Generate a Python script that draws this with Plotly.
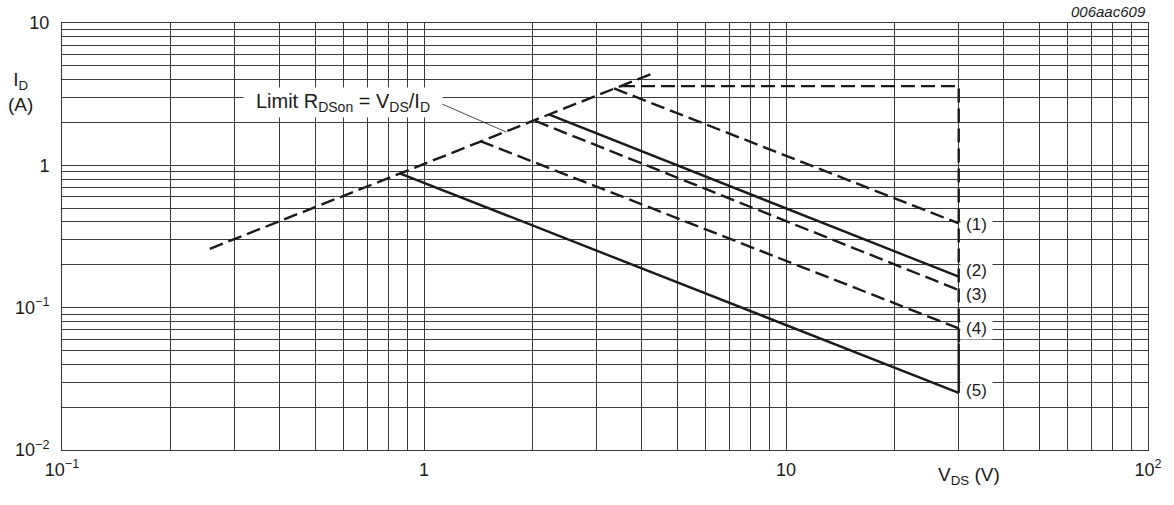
import numpy as np
import plotly.graph_objects as go

# ---- data -------------------------------------------------------------
# R_DSon limit line, V_DS (V) vs I_D (A)
rdson_v = [0.256, 4.22]
rdson_i = [0.259, 4.36]

# limit curves: start on the R_DSon line, end at V_DS = 30 V
curve_names = ["(1)", "(2)", "(3)", "(4)", "(5)"]
curve_v_start = [3.35, 2.21, 2.03, 1.43, 0.857]
curve_i_start = [3.47, 2.28, 2.05, 1.48, 0.879]
curve_v_end = [30, 30, 30, 30, 30]
curve_i_end = [0.391, 0.165, 0.133, 0.0715, 0.0252]
curve_dash = ["dash", "solid", "dash", "dash", "solid"]

# maximum current / maximum voltage boundary
boundary_v = [3.5, 30, 30]
boundary_i = [3.6, 3.6, 0.056]
dc_drop_v = [30, 30]
dc_drop_i = [0.056, 0.0252]

# curve label positions
label_v = 33.5
label_i = [0.385, 0.181, 0.124, 0.0715, 0.026]

# leader for the R_DSon label
leader_tip_v = 1.69
leader_tail_v = 1.11
leader_tail_i = 2.73

# axis ticks
x_decades = [0.1, 1, 10, 100]
x_tick_text = ["10<sup>−1</sup>", "1", "10", "10<sup>2</sup>"]
y_decades = [0.01, 0.1, 1, 10]
y_tick_text = ["10<sup>−2</sup>", "10<sup>−1</sup>", "1", "10"]
grid_multipliers = [2, 3, 4, 5, 6, 7, 8, 9]

# ---- styling ----------------------------------------------------------
FONT = "Liberation Sans, Arial, Helvetica, sans-serif"
INK = "#1a1a1a"
GRID = "#3a3a3a"
DASH = "14px,6px"
LW = 2.4


def minor_values(decades):
    return [d * m for d in decades[:-1] for m in grid_multipliers]


fig = go.Figure()

# R_DSon limit
fig.add_trace(go.Scatter(x=rdson_v, y=rdson_i, mode="lines",
                         line=dict(color=INK, width=LW, dash=DASH),
                         hoverinfo="skip"))

# max current / voltage boundary
fig.add_trace(go.Scatter(x=boundary_v, y=boundary_i, mode="lines",
                         line=dict(color=INK, width=LW, dash=DASH),
                         hoverinfo="skip"))
fig.add_trace(go.Scatter(x=dc_drop_v, y=dc_drop_i, mode="lines",
                         line=dict(color=INK, width=LW),
                         hoverinfo="skip"))

# limit curves
for vs, is_, ve, ie, dsh in zip(curve_v_start, curve_i_start, curve_v_end,
                                curve_i_end, curve_dash):
    fig.add_trace(go.Scatter(x=[vs, ve], y=[is_, ie], mode="lines",
                             line=dict(color=INK, width=LW,
                                       dash=DASH if dsh == "dash" else "solid"),
                             hoverinfo="skip"))

annotations = []

# curve labels
for name, li in zip(curve_names, label_i):
    annotations.append(dict(
        x=np.log10(label_v), y=np.log10(li), xref="x", yref="y",
        text=name, showarrow=False, bgcolor="white", width=29,
        font=dict(family=FONT, size=17, color=INK),
        xanchor="center", yanchor="middle", borderpad=1))

# R_DSon label and leader
rdson_r = rdson_v[0] / rdson_i[0]
leader_tip_i = leader_tip_v / rdson_r
annotations.append(dict(
    x=np.log10(leader_tip_v), y=np.log10(leader_tip_i), xref="x", yref="y",
    ax=np.log10(leader_tail_v), ay=np.log10(leader_tail_i),
    axref="x", ayref="y", text="", showarrow=True, arrowhead=0,
    arrowwidth=0.8, arrowcolor=INK, standoff=0, startstandoff=0))
annotations.append(dict(
    x=-0.224, y=0.445, xref="x", yref="y",
    text="Limit R<sub>DSon</sub> = V<sub>DS</sub>/I<sub>D</sub>",
    showarrow=False, bgcolor="white", width=196, height=27,
    font=dict(family=FONT, size=20, color=INK),
    xanchor="center", yanchor="middle"))

# axis titles and figure code
annotations.append(dict(
    x=-0.038, y=0.838, xref="paper", yref="paper",
    text="I<sub>D</sub><br>(A)", showarrow=False, align="center",
    font=dict(family=FONT, size=19, color=INK),
    xanchor="center", yanchor="middle"))
annotations.append(dict(
    x=0.8356, y=-0.062, xref="paper", yref="paper",
    text="V<sub>DS</sub> (V)", showarrow=False,
    font=dict(family=FONT, size=19, color=INK),
    xanchor="center", yanchor="middle"))
annotations.append(dict(
    x=1.0, y=1.027, xref="paper", yref="paper",
    text="<i>006aac609</i>", showarrow=False,
    font=dict(family=FONT, size=15, color=INK),
    xanchor="right", yanchor="middle"))

axis_common = dict(
    type="log", showgrid=True, gridcolor=GRID, gridwidth=1,
    showline=True, linecolor=GRID, linewidth=1, mirror=True,
    zeroline=False, ticks="", tickfont=dict(family=FONT, size=18, color=INK),
    tickmode="array", fixedrange=True,
)

fig.update_layout(
    width=1174, height=505,
    margin=dict(l=62, r=23, t=23, b=55),
    paper_bgcolor="white", plot_bgcolor="white",
    showlegend=False,
    xaxis=dict(axis_common, range=[-1, 2], tickvals=x_decades,
               ticktext=x_tick_text, ticklabelstandoff=3,
               minor=dict(tickmode="array", tickvals=minor_values(x_decades),
                          showgrid=True, gridcolor=GRID, gridwidth=1,
                          ticks="")),
    yaxis=dict(axis_common, range=[-2, 1], tickvals=y_decades,
               ticktext=y_tick_text, ticklabelstandoff=8,
               minor=dict(tickmode="array", tickvals=minor_values(y_decades),
                          showgrid=True, gridcolor=GRID, gridwidth=1,
                          ticks="")),
    annotations=annotations,
)

fig.write_html("out.html", config={"displayModeBar": False})
